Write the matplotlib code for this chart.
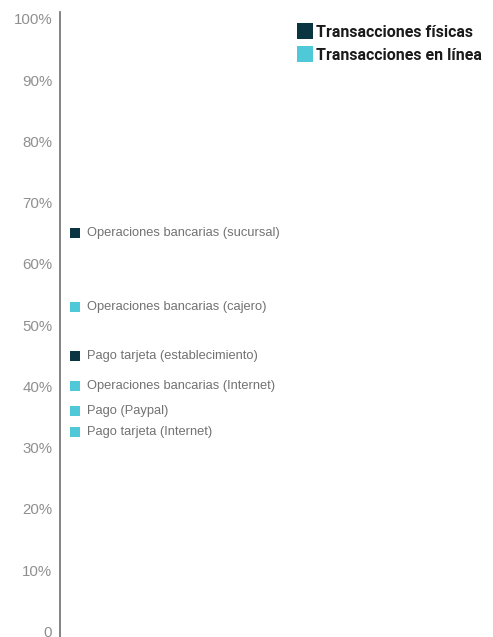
import matplotlib
matplotlib.use("Agg")
import matplotlib.pyplot as plt
from matplotlib.lines import Line2D

# Share of users per channel (%)
labels = [
    "Operaciones bancarias (sucursal)",
    "Operaciones bancarias (cajero)",
    "Pago tarjeta (establecimiento)",
    "Operaciones bancarias (Internet)",
    "Pago (Paypal)",
    "Pago tarjeta (Internet)",
]
values = [65, 53, 45, 40, 36, 32.5]
kinds = ["fisica", "linea", "fisica", "linea", "linea", "linea"]

series_names = {"fisica": "Transacciones físicas", "linea": "Transacciones en línea"}
colors = {"fisica": "#0b3443", "linea": "#4fc8d8"}

yticks = list(range(0, 101, 10))
ytick_labels = ["0"] + [f"{t}%" for t in yticks[1:]]

W, H = 493, 637
fig = plt.figure(figsize=(W / 100, H / 100), dpi=100)
ax = fig.add_axes([60 / W, 0, 1 - 60 / W, (H - 12) / H])

ax.set_xlim(0, 1)
ax.set_ylim(-0.9, 101.14)

mx = 15 / 433
tx = 27 / 433
for lab, v, k in zip(labels, values, kinds):
    ax.scatter([mx], [v], marker="s", s=62, color=colors[k], linewidths=0, zorder=3)
    ax.text(tx, v, lab, va="center", ha="left", fontsize=9.3,
            color="#727272", family=["Liberation Sans", "DejaVu Sans"])

ax.set_yticks(yticks)
ax.set_yticklabels(ytick_labels, fontsize=10.8, color="#8f8f8f",
                   family=["Liberation Sans", "DejaVu Sans"])
ax.tick_params(axis="y", length=0, pad=5.5)
ax.set_xticks([])
for s in ["top", "right", "bottom"]:
    ax.spines[s].set_visible(False)
ax.spines["left"].set_color("#7a7a7a")
ax.spines["left"].set_linewidth(1.3)

handles = [Line2D([], [], marker="s", linestyle="none", markersize=11.5,
                  markerfacecolor=colors[k], markeredgewidth=0)
           for k in ["fisica", "linea"]]
leg = fig.legend(handles, [series_names["fisica"], series_names["linea"]],
                 loc="upper left", bbox_to_anchor=(297 / W, 1 - 25 / H),
                 frameon=False, handletextpad=0.2, handlelength=1.0,
                 labelspacing=0.5, borderpad=0, borderaxespad=0,
                 prop={"family": ["Roboto", "Liberation Sans", "DejaVu Sans"],
                       "weight": "bold", "size": 11.5})
for t in leg.get_texts():
    t.set_color("#1a1a1a")

fig.savefig("out.png", dpi=100)
